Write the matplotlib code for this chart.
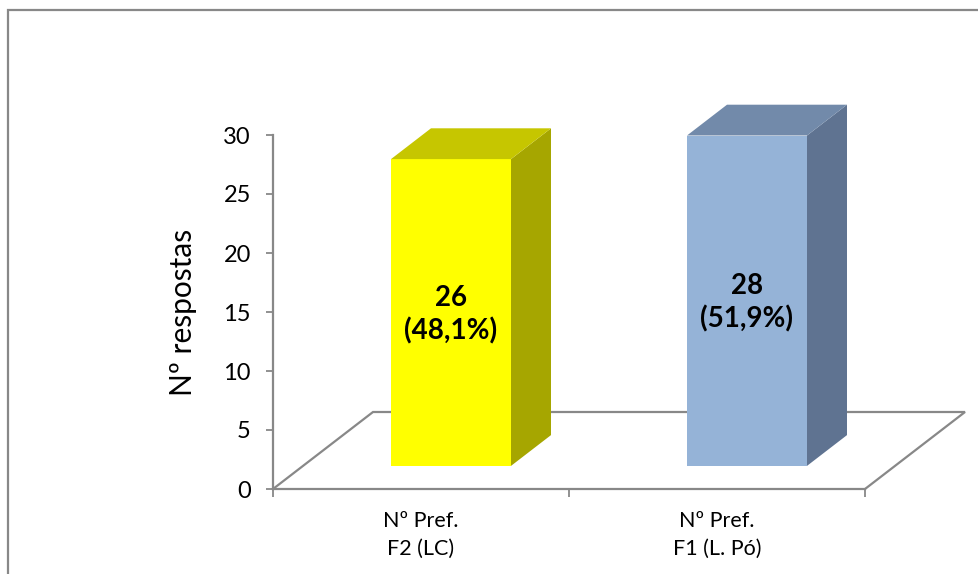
import matplotlib
matplotlib.use("Agg")
import matplotlib.pyplot as plt
from matplotlib.patches import Polygon, Rectangle

plt.rcParams['font.family'] = ['Lato', 'DejaVu Sans']

categories = ["Nº Pref.\nF2 (LC)", "Nº Pref.\nF1 (L. Pó)"]
values = [26, 28]
percent_labels = ["48,1%", "51,9%"]
front_colors = ["#FFFF00", "#95B3D7"]
side_colors = ["#A6A600", "#5F7391"]
top_colors = ["#C6C600", "#728AAA"]
y_ticks = [0, 5, 10, 15, 20, 25, 30]

W, H, DPI = 979, 574, 100
fig = plt.figure(figsize=(W / DPI, H / DPI), dpi=DPI)
ax = fig.add_axes([0, 0, 1, 1])

# pixel geometry of the plot (reference layout)
X0PX, PXU = 273, 296.0
Y0PX, PYU = 489, 11.8
ax.set_xlim(-X0PX / PXU, (W - X0PX) / PXU)
ax.set_ylim(-(H - Y0PX) / PYU, Y0PX / PYU)

DX = 100 / PXU   # depth offset of the floor
DY = 77 / PYU
d0, d1 = 0.3, 0.7
bw = 120 / PXU
gray = "#888888"

# floor outline
n = len(categories)
ax.plot([0, DX, n + DX, n], [0, DY, DY, 0], color=gray, lw=1.6, zorder=1,
        solid_joinstyle='miter')

centers = [i + 0.5 for i in range(n)]
fx = [c + d0 * DX for c in centers]
base = d0 * DY
ddx = (d1 - d0) * DX
ddy = (d1 - d0) * DY

ax.bar(fx, values, bottom=base, width=bw, color=front_colors, zorder=3,
       linewidth=0)
for x, v, sc, tc, pct in zip(fx, values, side_colors, top_colors, percent_labels):
    xl, xr = x - bw / 2, x + bw / 2
    top = base + v
    ax.add_patch(Polygon([(xr, base), (xr + ddx, base + ddy),
                          (xr + ddx, top + ddy), (xr, top)],
                         closed=True, facecolor=sc, edgecolor='none', zorder=3))
    ax.add_patch(Polygon([(xl, top), (xr, top), (xr + ddx, top + ddy),
                          (xl + ddx, top + ddy)],
                         closed=True, facecolor=tc, edgecolor='none', zorder=3))
    ax.text(x, base + v / 2 - 0.2, f"{v}\n({pct})", ha='center', va='center',
            fontsize=20, fontweight='bold', color='black', linespacing=1.28,
            zorder=5)

# axes spines / ticks
for s in ['top', 'right']:
    ax.spines[s].set_visible(False)
ax.spines['left'].set_position(('data', 0))
ax.spines['left'].set_bounds(0, 30)
ax.spines['bottom'].set_position(('data', 0))
ax.spines['bottom'].set_bounds(0, n)
for s in ['left', 'bottom']:
    ax.spines[s].set_color(gray)
    ax.spines[s].set_linewidth(1.6)
    ax.spines[s].set_zorder(2)

ax.set_yticks(y_ticks)
ax.set_yticklabels([str(t) for t in y_ticks])
ax.tick_params(axis='y', direction='out', length=5, width=1.3, color=gray,
               pad=11, labelsize=17, labelcolor='black')
ax.set_xticks(range(n + 1))
ax.set_xticklabels([""] * (n + 1))
ax.set_xticks(centers, minor=True)
ax.set_xticklabels(categories, minor=True)
ax.tick_params(axis='x', which='major', direction='out', length=6, width=1.3,
               color=gray)
ax.tick_params(axis='x', which='minor', length=0, pad=16, labelsize=15.5,
               labelcolor='black')
for lbl in ax.get_xticklabels(minor=True):
    lbl.set_linespacing(1.45)

ax.set_ylabel("Nº respostas", fontsize=21.5, color='black')
ax.yaxis.set_label_coords((197 - X0PX) / PXU, 15, transform=ax.transData)

# outer frame
fig.add_artist(Rectangle((8 / W, -0.1), 1.2, 1 - 10 / H + 0.1,
                         transform=fig.transFigure, fill=False,
                         edgecolor="#888888", lw=1.6))

fig.savefig("out.png", dpi=DPI)
